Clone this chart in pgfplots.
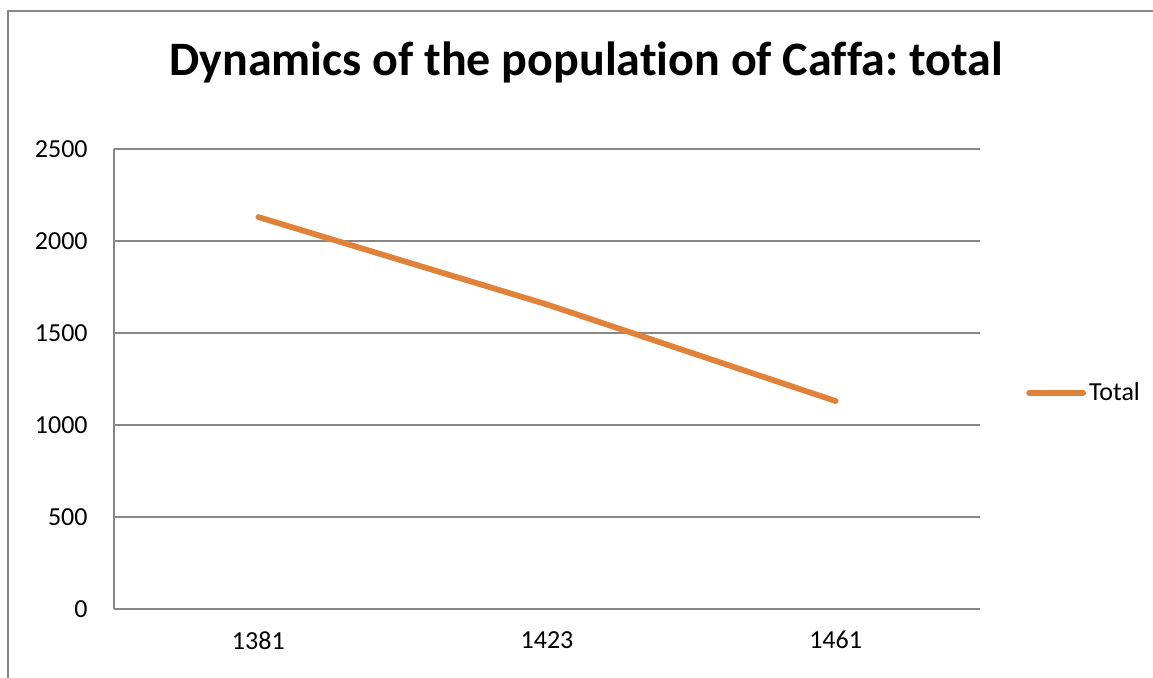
\documentclass[border=0pt]{standalone}
\usepackage{fontspec}
\setmainfont{Carlito}[Ligatures=CommonOff]
\usepackage{pgfplots}
\pgfplotsset{compat=1.18}
\definecolor{lineorange}{HTML}{E0823A}
\definecolor{gridgray}{HTML}{878787}
\frenchspacing
\begin{document}
\begin{tikzpicture}
\path[use as bounding box] (-57pt,-34pt) rectangle (519.5pt,304.5pt);
\begin{axis}[
  scale only axis,
  width=433pt, height=230pt,
  at={(0,0)}, anchor=south west,
  xmin=-0.5, xmax=2.5,
  ymin=0, ymax=2500,
  xtick={0,1,2},
  xticklabels={1381,1423,1461},
  ytick={0,500,1000,1500,2000,2500},
  axis x line*=bottom, axis y line*=left,
  axis line style={gridgray, line width=1pt, -},
  major tick length=0pt,
  ymajorgrids,
  grid style={gridgray, line width=1pt},
  /pgf/number format/assume math mode=true,
  /pgf/number format/1000 sep={},
  tick label style={font=\fontsize{13}{15}\selectfont, inner sep=0pt},
  yticklabel style={anchor=east, xshift=-13pt},
  xticklabel style={anchor=north, yshift=-11pt},
  legend style={draw=none, at={(1.053,0.47)}, anchor=west, font=\fontsize{13}{15}\selectfont, inner sep=0pt, nodes={inner sep=1.5pt}},
  legend image code/.code={\draw[#1, line cap=round] (0pt,0pt) -- (27pt,0pt);},
  clip=false,
]
\addplot[lineorange, line width=2.9pt, line cap=round] coordinates {(0,2130) (1,1655) (2,1130)};
\addlegendentry{Total}
\end{axis}
\draw[gridgray, line width=0.8pt] (-53pt,-40pt) -- (-53pt,299pt) -- (530pt,299pt);
\node[anchor=base, font=\fontsize{24}{28}\selectfont\bfseries] at (236pt,267pt) {Dynamics of the population of Caffa: total};
\end{tikzpicture}
\end{document}
